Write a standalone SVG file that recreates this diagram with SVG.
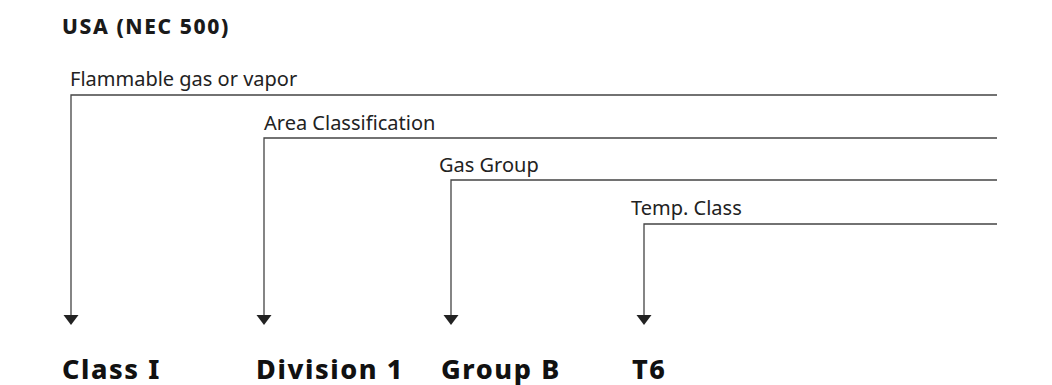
<svg xmlns="http://www.w3.org/2000/svg" width="1052" height="385" viewBox="0 0 1052 385">
<defs>
<style>
.hdr{font-family:"Noto Sans","Liberation Sans",sans-serif;font-weight:800;font-size:21px;letter-spacing:1.6px;fill:#1a1a1a}
.lbl{font-family:"Noto Sans","Liberation Sans",sans-serif;font-size:20px;fill:#222}
.big{font-family:"Noto Sans","Liberation Sans",sans-serif;font-weight:800;font-size:27px;letter-spacing:1.6px;fill:#111}
.ln{fill:none;stroke:#444;stroke-width:1.3}
.ah{fill:#222}
</style>
</defs>
<rect width="1052" height="385" fill="#fff"/>
<text class="hdr" x="62" y="34">USA (NEC 500)</text>
<g id="connectors">
<path class="ln" d="M997,95 H71 V315"/>
<path d="M63.5,315 L78.5,315 L71,325 Z" class="ah"/>
<path class="ln" d="M997,138 H264 V315"/>
<path d="M256.5,315 L271.5,315 L264,325 Z" class="ah"/>
<path class="ln" d="M997,180 H451 V315"/>
<path d="M443.5,315 L458.5,315 L451,325 Z" class="ah"/>
<path class="ln" d="M997,224 H644 V315"/>
<path d="M636.5,315 L651.5,315 L644,325 Z" class="ah"/>
</g>
<g id="n-flammable"><text class="lbl" x="70" y="86">Flammable gas or vapor</text></g>
<g id="n-area"><text class="lbl" x="264" y="130">Area Classification</text></g>
<g id="n-gas"><text class="lbl" x="439" y="172">Gas Group</text></g>
<g id="n-temp"><text class="lbl" x="631" y="215">Temp. Class</text></g>
<g id="n-class"><text class="big" x="62" y="379">Class I</text></g>
<g id="n-division"><text class="big" x="256" y="379">Division 1</text></g>
<g id="n-group"><text class="big" x="441" y="379">Group B</text></g>
<g id="n-t6"><text class="big" x="632" y="379">T6</text></g>
</svg>
